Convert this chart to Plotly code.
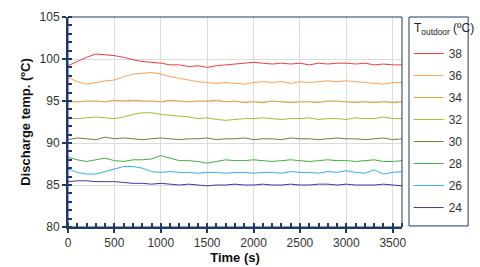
import plotly.graph_objects as go

time_s = list(range(0, 3601, 100))

t38 = [99.2, 99.7, 100.2, 100.6, 100.5, 100.4, 100.2, 99.9, 99.7, 99.6, 99.5, 99.3, 99.3, 99.1, 99.2, 99.0, 99.2, 99.3, 99.4, 99.5, 99.6, 99.5, 99.4, 99.5, 99.4, 99.5, 99.3, 99.5, 99.4, 99.5, 99.5, 99.4, 99.5, 99.3, 99.4, 99.3, 99.3]
t36 = [97.8, 97.3, 97.0, 97.2, 97.4, 97.5, 97.9, 98.2, 98.3, 98.4, 98.2, 97.9, 97.7, 97.5, 97.3, 97.2, 97.1, 97.2, 97.1, 97.0, 97.2, 97.3, 97.2, 97.3, 97.1, 97.3, 97.2, 97.3, 97.4, 97.3, 97.4, 97.3, 97.2, 97.1, 97.0, 97.2, 97.2]
t34 = [94.9, 94.9, 95.0, 95.0, 94.9, 95.1, 95.0, 95.1, 95.0, 95.0, 94.9, 95.1, 95.0, 94.9, 95.0, 95.0, 95.1, 94.9, 95.0, 94.8, 94.9, 94.8, 95.0, 94.9, 94.8, 94.9, 94.9, 94.8, 95.0, 95.0, 94.9, 94.8, 94.9, 94.8, 94.9, 94.8, 94.9]
t32 = [92.9, 92.9, 93.0, 93.1, 93.0, 92.9, 93.1, 93.4, 93.6, 93.6, 93.4, 93.3, 93.2, 93.1, 92.9, 93.0, 92.8, 92.7, 92.8, 92.9, 92.9, 93.0, 92.9, 92.8, 92.9, 92.9, 93.0, 92.8, 92.9, 92.9, 92.8, 93.0, 92.9, 92.9, 93.1, 92.9, 92.9]
t30 = [90.4, 90.6, 90.5, 90.4, 90.7, 90.5, 90.6, 90.5, 90.4, 90.5, 90.6, 90.5, 90.4, 90.5, 90.5, 90.6, 90.4, 90.5, 90.5, 90.6, 90.4, 90.5, 90.5, 90.4, 90.6, 90.5, 90.5, 90.4, 90.5, 90.6, 90.5, 90.5, 90.4, 90.5, 90.6, 90.4, 90.5]
t28 = [88.3, 88.0, 87.8, 88.0, 88.2, 87.9, 87.8, 88.0, 88.0, 88.1, 88.5, 88.2, 87.9, 87.9, 87.8, 87.6, 87.8, 88.0, 87.9, 87.9, 88.0, 87.9, 87.8, 87.9, 88.0, 87.9, 87.8, 87.9, 88.0, 87.9, 87.9, 87.8, 87.9, 88.0, 87.8, 87.8, 87.9]
t26 = [86.9, 86.5, 86.3, 86.3, 86.6, 86.9, 87.2, 87.2, 87.0, 86.6, 86.5, 86.6, 86.5, 86.5, 86.4, 86.5, 86.5, 86.4, 86.5, 86.5, 86.4, 86.5, 86.5, 86.4, 86.6, 86.5, 86.5, 86.4, 86.6, 86.5, 86.7, 86.5, 86.4, 86.8, 86.3, 86.5, 86.6]
t24 = [85.4, 85.5, 85.5, 85.4, 85.4, 85.4, 85.3, 85.2, 85.2, 85.1, 85.2, 85.1, 85.0, 85.1, 85.0, 84.9, 85.0, 85.0, 85.1, 85.0, 85.0, 85.1, 85.0, 85.0, 85.1, 85.0, 85.0, 85.1, 85.1, 85.0, 85.1, 85.0, 85.0, 85.0, 85.1, 85.0, 84.9]

series_names = ["38", "36", "34", "32", "30", "28", "26", "24"]
series_values = [t38, t36, t34, t32, t30, t28, t26, t24]
colors = ["#f03c3c", "#ffa050", "#e0a030", "#a8b830", "#7a7a30", "#40b040", "#30b0f0", "#5030a0"]
legend_title = "T<sub>outdoor</sub> (ºC)"

navy = "#1f3a64"

fig = go.Figure()
for name, vals, c in zip(series_names, series_values, colors):
    fig.add_trace(go.Scatter(x=time_s, y=vals, mode="lines", name=name,
                             legendgroup=name,
                             line=dict(color=c, width=1)))

fig.update_layout(
    width=480, height=267,
    margin=dict(l=68, r=78, t=17, b=40),
    paper_bgcolor="white", plot_bgcolor="white",
    font=dict(family="Liberation Sans, Arial, sans-serif", size=12, color="#333333"),
    legend=dict(
        x=1.02, y=0.895, xanchor="left", yanchor="top",
        bgcolor="rgba(0,0,0,0)",
        font=dict(size=12, color="#333333"),
        tracegroupgap=3,
    ),
    xaxis=dict(
        range=[0, 3600], tickvals=[0, 500, 1000, 1500, 2000, 2500, 3000, 3500],
        showgrid=True, gridcolor="#dcdcdc", gridwidth=1,
        showline=True, linecolor=navy, linewidth=2,
        ticks="outside", ticklen=4, tickcolor=navy, tickwidth=2,
        minor=dict(dtick=100, ticks="inside", ticklen=4, tickcolor=navy, tickwidth=1.5, showgrid=False),
        zeroline=False,
        title=dict(text="<b>Time (s)</b>", font=dict(size=13, color="#111111"), standoff=2),
        automargin=False,
    ),
    yaxis=dict(
        range=[80, 105], tickvals=[80, 85, 90, 95, 100, 105],
        showgrid=True, gridcolor="#dcdcdc", gridwidth=1,
        showline=True, linecolor=navy, linewidth=2,
        ticks="outside", ticklen=4, tickcolor=navy, tickwidth=2,
        minor=dict(dtick=1, ticks="inside", ticklen=4, tickcolor=navy, tickwidth=1.5, showgrid=False),
        zeroline=False,
        title=dict(text="<b>Discharge temp. (ºC)</b>", font=dict(size=13, color="#111111"), standoff=6),
        automargin=False,
    ),
    shapes=[
        dict(type="rect", xref="paper", yref="paper", x0=0, x1=1, y0=0, y1=1,
             line=dict(color=navy, width=1), fillcolor="rgba(0,0,0,0)", layer="above"),
        dict(type="rect", xref="paper", yref="paper", x0=1.021, x1=1.198, y0=0.005, y1=1,
             line=dict(color=navy, width=1), fillcolor="rgba(0,0,0,0)"),
    ],
    annotations=[
        dict(text=legend_title, xref="paper", yref="paper", x=1.03, y=0.945,
             xanchor="left", yanchor="middle", showarrow=False,
             font=dict(size=12, color="#222222")),
    ],
)

fig.write_html("out.html", config={"displayModeBar": False},
               post_script="document.body.style.margin='0';")
